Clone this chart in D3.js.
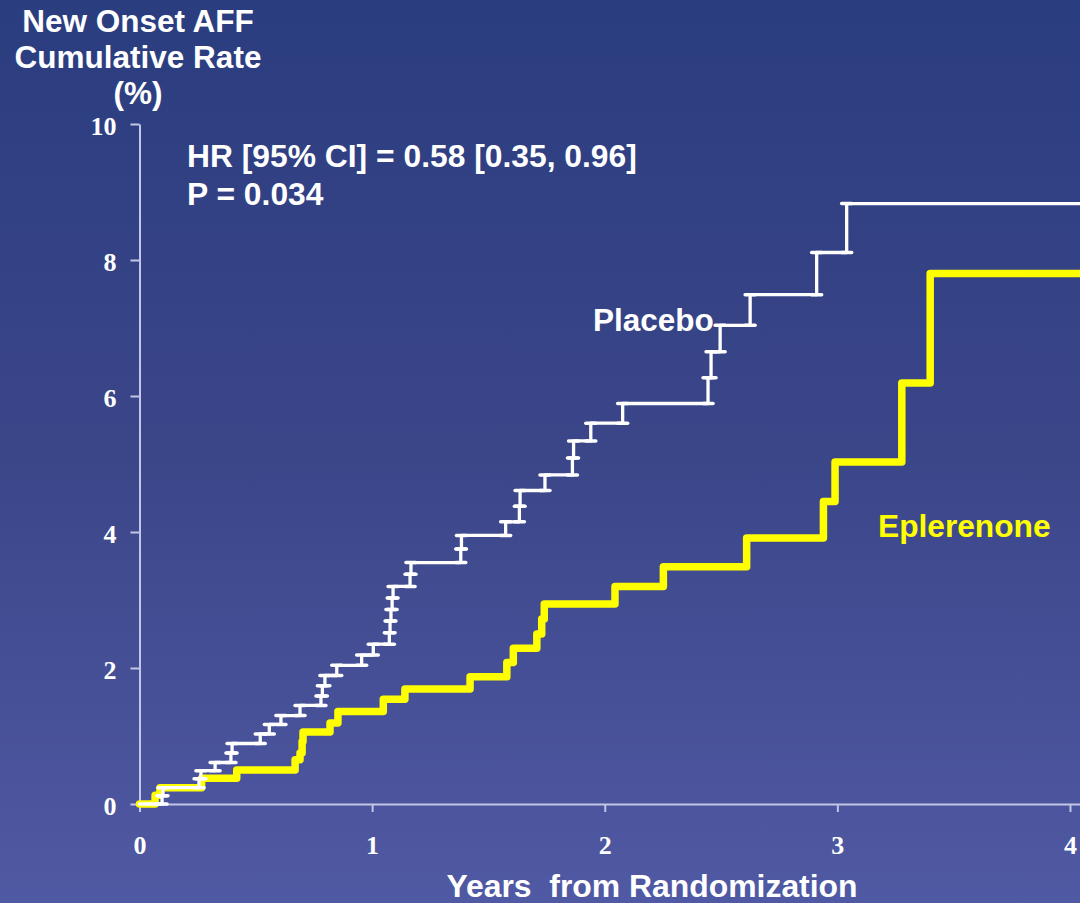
<!DOCTYPE html>
<html>
<head>
<meta charset="utf-8">
<script src="https://d3js.org/d3.v7.min.js"></script>
<style>
  body { margin: 0; padding: 0; overflow: hidden; }
  .lbl { font-family: "Liberation Sans", Arial, sans-serif; font-weight: bold; white-space: pre; }
  .tick text { font-family: "Liberation Serif", "Times New Roman", serif; font-weight: bold; }
</style>
</head>
<body>
<svg width="1080" height="903" id="svg_km"></svg>

<script>

// cumulative rate of new onset AFF (%), step jumps
var placebo_t = [0, 0.097, 0.101, 0.256, 0.264, 0.325, 0.393, 0.398, 0.519, 0.558,
                 0.608, 0.690, 0.780, 0.786, 0.797, 0.848, 0.955, 1.005, 1.074, 1.077,
                 1.081, 1.086, 1.090, 1.163, 1.167, 1.381, 1.384, 1.574, 1.633, 1.636,
                 1.743, 1.861, 1.866, 1.940, 2.077, 2.444, 2.457, 2.496, 2.625, 2.911,
                 3.040];
var placebo_v = [0, 0.12, 0.24, 0.37, 0.49, 0.61, 0.75, 0.89, 1.03, 1.17,
                 1.30, 1.45, 1.59, 1.74, 1.89, 2.04, 2.19, 2.35, 2.52, 2.69,
                 2.86, 3.03, 3.20, 3.38, 3.55, 3.75, 3.95, 4.15, 4.38, 4.61,
                 4.84, 5.09, 5.34, 5.60, 5.89, 6.27, 6.65, 7.04, 7.49, 8.11,
                 8.83];

var epler_t = [0, 0.067, 0.088, 0.267, 0.418, 0.669, 0.690, 0.699, 0.703, 0.819,
               0.853, 1.048, 1.141, 1.421, 1.579, 1.607, 1.708, 1.729, 1.740, 2.044,
               2.252, 2.610, 2.940, 2.990, 3.277, 3.399];
var epler_v = [0, 0.13, 0.24, 0.38, 0.50, 0.65, 0.75, 0.92, 1.06, 1.19,
               1.36, 1.54, 1.69, 1.87, 2.08, 2.29, 2.50, 2.72, 2.94, 3.20,
               3.49, 3.91, 4.45, 5.03, 6.19, 7.80];

var t_end = 4.05;

var x_ticks = [0, 1, 2, 3, 4];
var y_ticks = [0, 2, 4, 6, 8, 10];

var title_lines = ["New Onset AFF", "Cumulative Rate", "(%)"];
var stat_lines = ["HR [95% CI] = 0.58 [0.35, 0.96]", "P = 0.034"];


var svg = d3.select("#svg_km");
var w = +svg.attr("width");
var h = +svg.attr("height");

// background
var defs = svg.append("defs");
var grad = defs.append("linearGradient")
    .attr("id", "bg")
    .attr("x1", 0).attr("y1", 0)
    .attr("x2", 0).attr("y2", 1);
grad.append("stop").attr("offset", "0%").attr("stop-color", "#2a3d7f");
grad.append("stop").attr("offset", "50%").attr("stop-color", "#3b4689");
grad.append("stop").attr("offset", "100%").attr("stop-color", "#5059a3");

svg.append("rect")
    .attr("width", w)
    .attr("height", h)
    .attr("fill", "url(#bg)");


var x = d3.scaleLinear()
    .domain([0, 4.043])
    .range([139.5, 1080]);

var y = d3.scaleLinear()
    .domain([0, 10])
    .range([804, 124]);

var axis_col = "#c3c6e6";

var xAxis = d3.axisBottom(x)
    .tickValues(x_ticks)
    .tickSize(8)
    .tickSizeOuter(0)
    .tickPadding(24)
    .tickFormat(d3.format("d"));

var yAxis = d3.axisLeft(y)
    .tickValues(y_ticks)
    .tickSize(9)
    .tickSizeOuter(0)
    .tickPadding(14)
    .tickFormat(d3.format("d"));

var gx = svg.append("g")
    .attr("class", "x axis")
    .attr("transform", "translate(0," + y(0) + ")")
    .call(xAxis);

var gy = svg.append("g")
    .attr("class", "y axis")
    .attr("transform", "translate(" + x(0) + ",0)")
    .call(yAxis);

[gx, gy].forEach(function (g) {
  g.select(".domain").attr("stroke", axis_col).attr("stroke-width", 2);
  g.selectAll(".tick line").attr("stroke", axis_col).attr("stroke-width", 2);
  g.selectAll(".tick text")
    .attr("fill", "white")
    .attr("font-size", "26px");
});
gy.selectAll(".tick text").attr("dy", "0.42em");


// curves
function to_points(ts, vs) {
  var pts = ts.map(function (t, i) { return {t: t, v: vs[i]}; });
  pts.push({t: t_end, v: vs[vs.length - 1]});
  return pts;
}

var line_km = d3.line()
    .curve(d3.curveStepAfter)
    .x(function (d) { return x(d.t); })
    .y(function (d) { return y(d.v); });

var placebo_pts = to_points(placebo_t, placebo_v);
var epler_pts = to_points(epler_t, epler_v);

var plot = svg.append("g");

plot.append("path")
    .datum(epler_pts)
    .attr("fill", "none")
    .attr("stroke", "#ffff00")
    .attr("stroke-width", 7.5)
    .attr("stroke-linejoin", "round")
    .attr("stroke-linecap", "round")
    .attr("d", line_km);

// little bars at each step of the placebo curve
var dash_dat = [];
for (var i = 1; i < placebo_t.length; i++) {
  dash_dat.push({t: placebo_t[i], v: placebo_v[i - 1]});
  dash_dat.push({t: placebo_t[i], v: placebo_v[i]});
}

plot.selectAll("line.dash")
    .data(dash_dat)
    .enter()
    .append("line")
    .attr("class", "dash")
    .attr("x1", function (d) { return x(d.t) - 5; })
    .attr("x2", function (d) { return x(d.t) + 5; })
    .attr("y1", function (d) { return y(d.v); })
    .attr("y2", function (d) { return y(d.v); })
    .attr("stroke", "white")
    .attr("stroke-width", 3.5)
    .attr("stroke-linecap", "round");

plot.append("path")
    .datum(placebo_pts)
    .attr("fill", "none")
    .attr("stroke", "white")
    .attr("stroke-width", 3.3)
    .attr("stroke-linejoin", "round")
    .attr("stroke-linecap", "round")
    .attr("d", line_km);


// texts
svg.selectAll("text.title")
    .data(title_lines)
    .enter()
    .append("text")
    .attr("class", "title lbl")
    .attr("x", 138)
    .attr("y", function (d, i) { return 32 + i * 36; })
    .attr("text-anchor", "middle")
    .attr("font-size", "31.5px")
    .attr("fill", "white")
    .text(function (d) { return d; });

svg.selectAll("text.stat")
    .data(stat_lines)
    .enter()
    .append("text")
    .attr("class", "stat lbl")
    .attr("x", 187)
    .attr("y", function (d, i) { return 167 + i * 38; })
    .attr("font-size", "31.8px")
    .attr("fill", "white")
    .text(function (d) { return d; });

svg.append("text")
    .attr("class", "lbl")
    .attr("x", 593)
    .attr("y", 331)
    .attr("font-size", "31.5px")
    .attr("fill", "white")
    .text("Placebo");

svg.append("text")
    .attr("class", "lbl")
    .attr("x", 878)
    .attr("y", 537)
    .attr("font-size", "31.7px")
    .attr("fill", "#ffff00")
    .text("Eplerenone");

svg.append("text")
    .attr("class", "lbl")
    .attr("x", 652)
    .attr("y", 897)
    .attr("text-anchor", "middle")
    .attr("font-size", "31.9px")
    .attr("fill", "white")
    .text("Years  from Randomization");

</script>
</body>
</html>
